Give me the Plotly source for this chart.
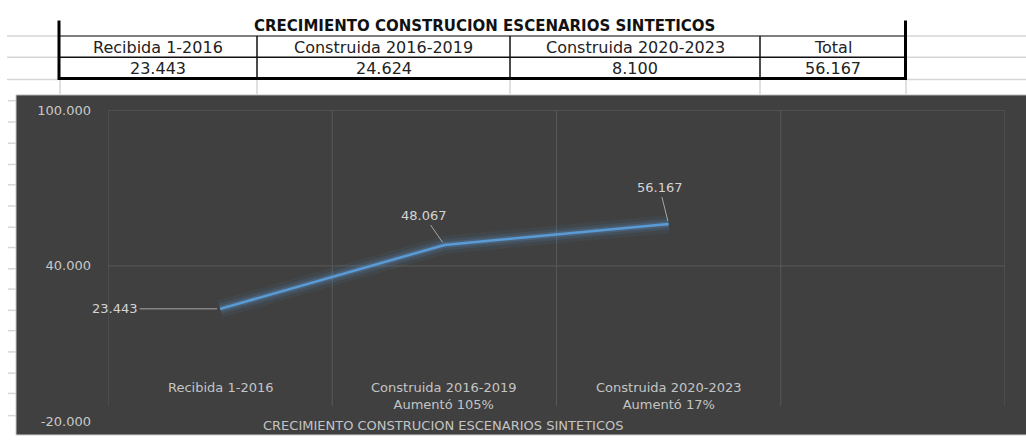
import plotly.graph_objects as go

# ---------------- data ----------------
table_title = "CRECIMIENTO CONSTRUCION ESCENARIOS SINTETICOS"
table_headers = ["Recibida 1-2016", "Construida 2016-2019", "Construida 2020-2023", "Total"]
table_values = [23443, 24624, 8100, 56167]

categories = ["Recibida 1-2016", "Construida 2016-2019", "Construida 2020-2023", "Total"]
cumulative = [23443, 48067, 56167]
growth_text = ["", "Aumentó 105%", "Aumentó 17%"]
y_ticks = [-20000, 40000, 100000]
axis_title = "CRECIMIENTO CONSTRUCION ESCENARIOS SINTETICOS"


def fmt(v):
    return f"{v:,}".replace(",", ".")


W, H = 1026, 442


def px(x):
    return x / W


def py(y):
    return 1 - y / H


fig = go.Figure()

# glow layers + main line
plot_cats = categories[:len(cumulative)]
for w, c in [(18, "rgba(91,155,213,0.07)"), (11, "rgba(91,155,213,0.13)"), (6, "rgba(91,155,213,0.24)")]:
    fig.add_trace(go.Scatter(x=plot_cats, y=cumulative, mode="lines",
                             line=dict(color=c, width=w), hoverinfo="skip", showlegend=False))
fig.add_trace(go.Scatter(x=plot_cats, y=cumulative, mode="lines", hoverinfo="skip",
                         line=dict(color="#5B9BD5", width=2.5), showlegend=False))

shapes = []
GREY = "#D6D6D6"
# spreadsheet background grid
for y in [30, 52, 75]:
    shapes.append(dict(type="line", xref="paper", yref="paper", x0=px(7), x1=px(58), y0=py(y), y1=py(y),
                       line=dict(color=GREY, width=1.5)))
    shapes.append(dict(type="line", xref="paper", yref="paper", x0=px(906), x1=px(1026), y0=py(y), y1=py(y),
                       line=dict(color=GREY, width=1.5)))
for x in [60, 257, 510, 760, 906]:
    shapes.append(dict(type="line", xref="paper", yref="paper", x0=px(x), x1=px(x), y0=py(75), y1=py(91),
                       line=dict(color=GREY, width=1.5)))
for y in [97, 119, 141, 163, 184, 206, 228, 249, 271, 292, 314, 335, 357, 379, 400, 423]:
    shapes.append(dict(type="line", xref="paper", yref="paper", x0=px(8), x1=px(16), y0=py(y), y1=py(y),
                       line=dict(color=GREY, width=1.5)))

# table borders
shapes.append(dict(type="line", xref="paper", yref="paper", x0=px(59), x1=px(905), y0=py(30), y1=py(30),
                   line=dict(color="#555555", width=1.5)))
shapes.append(dict(type="line", xref="paper", yref="paper", x0=px(59), x1=px(905), y0=py(52), y1=py(52),
                   line=dict(color="#111111", width=1.5)))
for x in [257, 510, 760]:
    shapes.append(dict(type="line", xref="paper", yref="paper", x0=px(x), x1=px(x), y0=py(30), y1=py(74),
                       line=dict(color="#111111", width=1.5)))
shapes.append(dict(type="line", xref="paper", yref="paper", x0=px(58), x1=px(907), y0=py(74), y1=py(74),
                   line=dict(color="#000000", width=3)))
for x in [59, 905.5]:
    shapes.append(dict(type="line", xref="paper", yref="paper", x0=px(x), x1=px(x), y0=py(14), y1=py(75.5),
                       line=dict(color="#000000", width=3)))

# dark chart area
shapes.append(dict(type="rect", xref="paper", yref="paper", x0=px(16), x1=px(1027), y0=py(91), y1=py(443),
                   fillcolor="#404040", line=dict(color="#C8C8C8", width=1), layer="below"))

# chart gridlines
GRID = "#585858"
for v in [100000, 40000]:
    shapes.append(dict(type="line", xref="x domain", yref="y", x0=0, x1=1, y0=v, y1=v,
                       line=dict(color=GRID, width=1), layer="below"))
for b in [-0.5, 0.5, 1.5, 2.5, 3.5]:
    shapes.append(dict(type="line", xref="x", yref="paper", x0=b, x1=b, y0=py(413), y1=py(107),
                       line=dict(color=GRID, width=1), layer="below"))

annotations = []
# table texts
annotations.append(dict(text="<b>" + table_title + "</b>", xref="paper", yref="paper", x=px(484), y=py(20),
                        showarrow=False, font=dict(family="DejaVu Sans", size=15, color="#111111"),
                        xanchor="center", yanchor="middle"))
col_edges = [58, 257, 510, 760, 905]
for i, (hdr, val) in enumerate(zip(table_headers, table_values)):
    cx = (col_edges[i] + col_edges[i + 1]) / 2
    annotations.append(dict(text=hdr, xref="paper", yref="paper", x=px(cx), y=py(41.5), showarrow=False,
                            font=dict(family="DejaVu Sans", size=16, color="#222222"),
                            xanchor="center", yanchor="middle"))
    annotations.append(dict(text=fmt(val), xref="paper", yref="paper", x=px(cx), y=py(63.5), showarrow=False,
                            font=dict(family="DejaVu Sans", size=16, color="#222222"),
                            xanchor="center", yanchor="middle"))

# data labels with leader lines
offsets = [(-105, 0), (-20, -29), (-9, -36)]
for cat, v, (ax, ay) in zip(plot_cats, cumulative, offsets):
    annotations.append(dict(text=fmt(v), x=cat, y=v, xref="x", yref="y", showarrow=True, arrowhead=0,
                            arrowwidth=1, arrowcolor="#A6A6A6", ax=ax, ay=ay, standoff=3,
                            font=dict(family="DejaVu Sans", size=13, color="#D4D4D4")))

# category labels (axis crosses at 0)
for cat, g in zip(plot_cats, growth_text):
    txt = cat if not g else cat + "<br>" + g
    annotations.append(dict(text=txt, x=cat, y=0, xref="x", yref="y", showarrow=False,
                            xanchor="center", yanchor="top", yshift=-8,
                            font=dict(family="DejaVu Sans", size=13, color="#C4C4C4")))

annotations.append(dict(text=axis_title, xref="paper", yref="paper", x=px(443), y=py(433), showarrow=False,
                        xanchor="center", yanchor="middle",
                        font=dict(family="DejaVu Sans", size=13, color="#C4C4C4")))

fig.update_layout(
    width=W, height=H, autosize=False,
    margin=dict(l=0, r=0, t=0, b=0, pad=0),
    paper_bgcolor="#FFFFFF", plot_bgcolor="#404040",
    showlegend=False, hovermode=False,
    shapes=shapes, annotations=annotations,
    xaxis=dict(type="category", categoryorder="array", categoryarray=categories,
               range=[-0.5, 3.5], domain=[px(108), px(1005)],
               showgrid=False, zeroline=False, showline=False, showticklabels=False, ticks=""),
    yaxis=dict(range=[-20000, 100000], domain=[py(429), py(107)],
               tickvals=y_ticks, ticktext=[fmt(v) for v in y_ticks],
               showgrid=False, zeroline=False, showline=False, ticks="",
               ticklabelstandoff=16,
               tickfont=dict(family="DejaVu Sans", size=13, color="#C8C8C8")),
)

fig.write_html(
    "out.html",
    config={"displayModeBar": False},
    post_script="document.body.style.margin='0';document.body.style.overflow='hidden';"
                "document.documentElement.style.overflow='hidden';",
)
